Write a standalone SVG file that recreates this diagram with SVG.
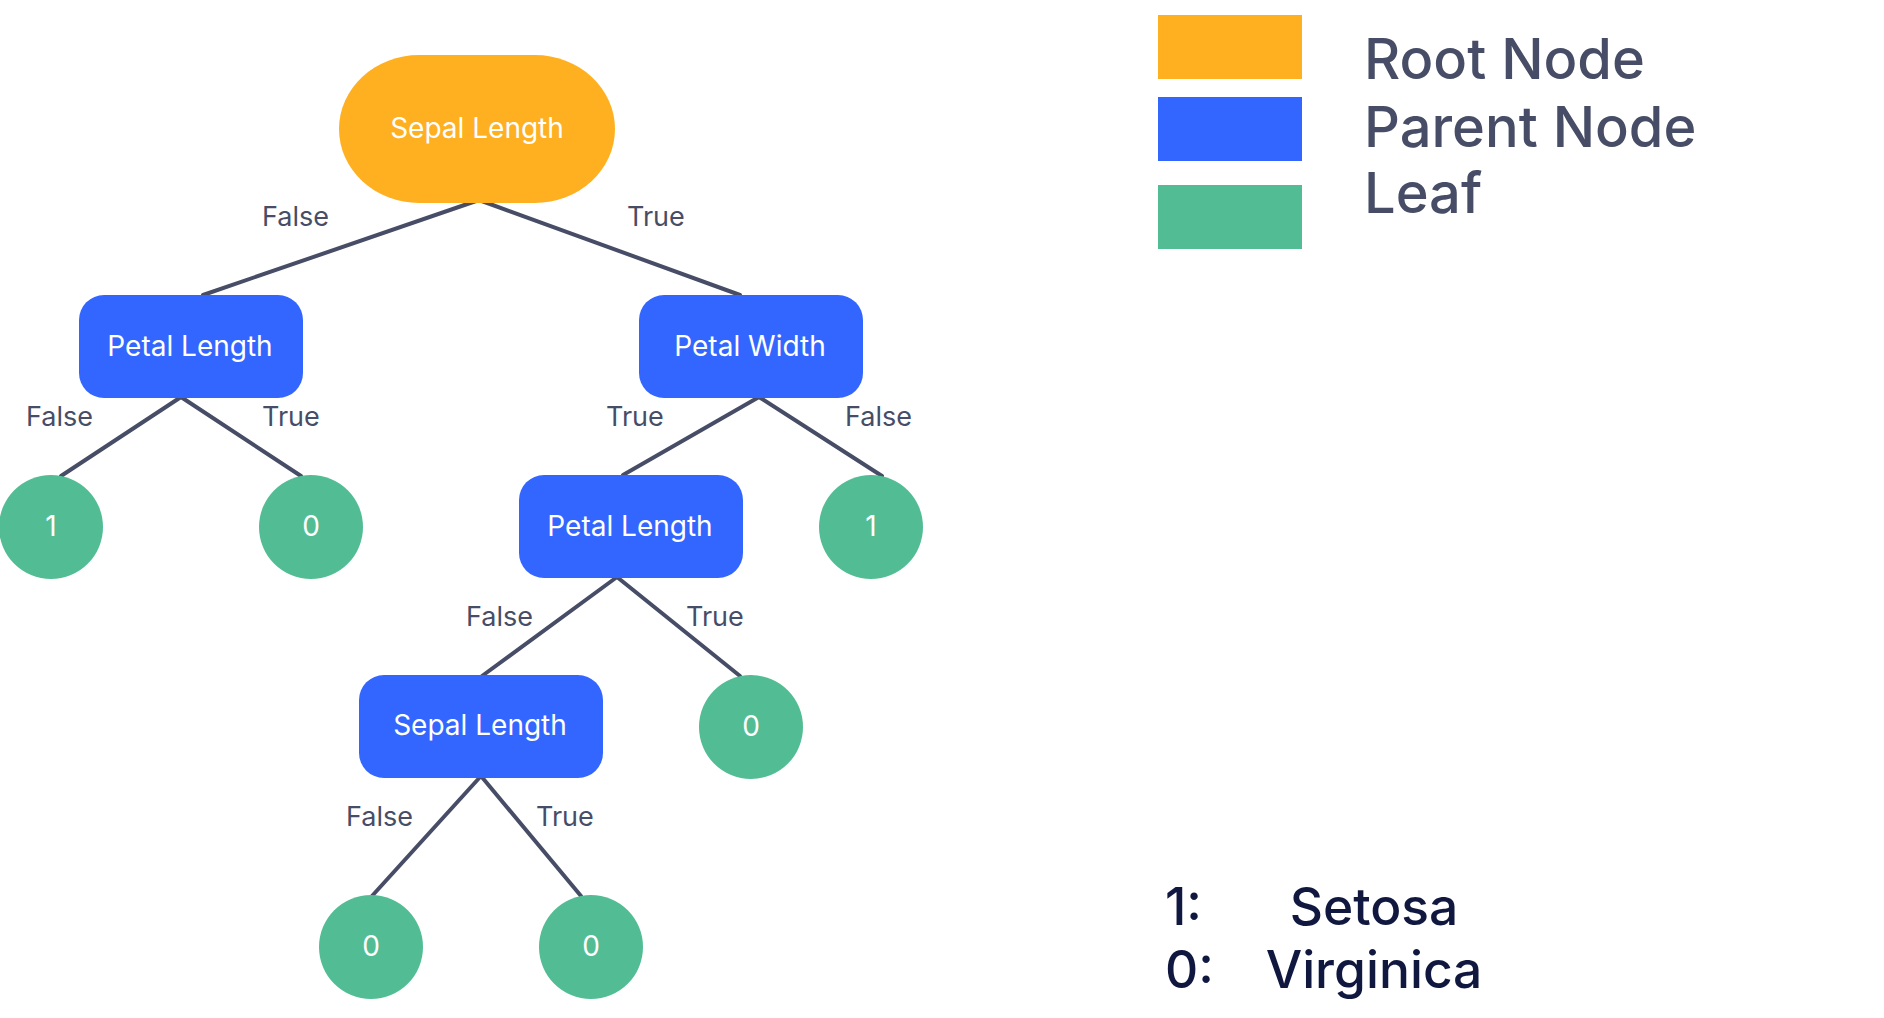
<svg xmlns="http://www.w3.org/2000/svg" width="1884" height="1018" viewBox="0 0 1884 1018">
<style>
.edge{stroke:#474D66;stroke-width:4;fill:none;stroke-linecap:round}
.lbl{font-family:Inter,"Noto Sans","Liberation Sans",sans-serif;font-size:27px;fill:#474D66}
.ntxt{font-family:Inter,"Noto Sans","Liberation Sans",sans-serif;font-size:28px;fill:#FFFFFF;text-anchor:middle}
.root{fill:#FFB020}
.parent{fill:#3366FF}
.leaf{fill:#52BD94}
.leg{font-family:Inter,"Noto Sans","Liberation Sans",sans-serif;font-size:56px;font-weight:500;fill:#474D66}
.key{font-family:Inter,"Noto Sans","Liberation Sans",sans-serif;font-size:51.5px;font-weight:500;fill:#101840}
</style>
<rect width="1884" height="1018" fill="#FFFFFF"/>
<g id="connectors">
<line class="edge" x1="479" y1="200" x2="203" y2="295"/>
<line class="edge" x1="479" y1="200" x2="740" y2="295"/>
<line class="edge" x1="181" y1="397" x2="61" y2="476"/>
<line class="edge" x1="181" y1="397" x2="301" y2="476"/>
<line class="edge" x1="759" y1="397" x2="623" y2="475"/>
<line class="edge" x1="759" y1="397" x2="882" y2="476"/>
<line class="edge" x1="617" y1="577" x2="482" y2="676"/>
<line class="edge" x1="617" y1="577" x2="740" y2="676"/>
<line class="edge" x1="481" y1="776" x2="372" y2="896"/>
<line class="edge" x1="481" y1="776" x2="581" y2="896"/>
<text class="lbl" x="262" y="226">False</text>
<text class="lbl" x="627" y="226">True</text>
<text class="lbl" x="26" y="426">False</text>
<text class="lbl" x="262" y="426">True</text>
<text class="lbl" x="606" y="426">True</text>
<text class="lbl" x="845" y="426">False</text>
<text class="lbl" x="466" y="626">False</text>
<text class="lbl" x="686" y="626">True</text>
<text class="lbl" x="346" y="826">False</text>
<text class="lbl" x="536" y="826">True</text>
</g>
<g id="root-sepal-length">
<rect class="root" x="339" y="55" width="276" height="148" rx="80" ry="74"/>
<text class="ntxt" x="477" y="138">Sepal Length</text>
</g>
<g id="petal-length-1">
<rect class="parent" x="79" y="295" width="224" height="103" rx="25"/>
<text class="ntxt" x="190" y="356">Petal Length</text>
</g>
<g id="petal-width">
<rect class="parent" x="639" y="295" width="224" height="103" rx="25"/>
<text class="ntxt" x="750" y="356">Petal Width</text>
</g>
<g id="petal-length-2">
<rect class="parent" x="519" y="475" width="224" height="103" rx="25"/>
<text class="ntxt" x="630" y="536">Petal Length</text>
</g>
<g id="sepal-length-2">
<rect class="parent" x="359" y="675" width="244" height="103" rx="25"/>
<text class="ntxt" x="480" y="735">Sepal Length</text>
</g>
<g id="leaf-1a">
<circle class="leaf" cx="51" cy="527" r="52"/>
<text class="ntxt" x="51" y="536">1</text>
</g>
<g id="leaf-0a">
<circle class="leaf" cx="311" cy="527" r="52"/>
<text class="ntxt" x="311" y="536">0</text>
</g>
<g id="leaf-1b">
<circle class="leaf" cx="871" cy="527" r="52"/>
<text class="ntxt" x="871" y="536">1</text>
</g>
<g id="leaf-0b">
<circle class="leaf" cx="751" cy="727" r="52"/>
<text class="ntxt" x="751" y="736">0</text>
</g>
<g id="leaf-0c">
<circle class="leaf" cx="371" cy="947" r="52"/>
<text class="ntxt" x="371" y="956">0</text>
</g>
<g id="leaf-0d">
<circle class="leaf" cx="591" cy="947" r="52"/>
<text class="ntxt" x="591" y="956">0</text>
</g>
<g id="legend">
<rect class="root" x="1158" y="15" width="144" height="64"/>
<rect class="parent" x="1158" y="97" width="144" height="64"/>
<rect class="leaf" x="1158" y="185" width="144" height="64"/>
<text class="leg" x="1364" y="79">Root Node</text>
<text class="leg" x="1364" y="147">Parent Node</text>
<text class="leg" x="1364" y="213">Leaf</text>
</g>
<g id="key">
<text class="key" x="1165" y="925">1:</text>
<text class="key" x="1165" y="988">0:</text>
<text class="key" x="1374" y="925" text-anchor="middle">Setosa</text>
<text class="key" x="1374" y="988" text-anchor="middle">Virginica</text>
</g>
</svg>
